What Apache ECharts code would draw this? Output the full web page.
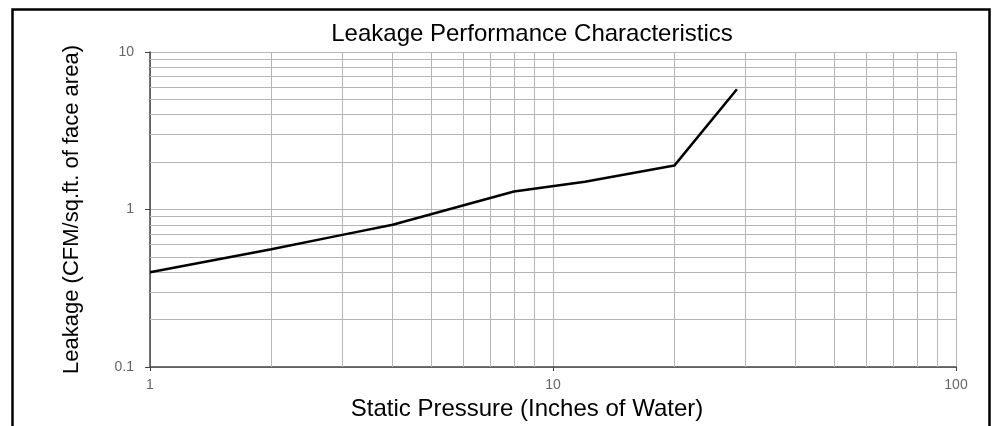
<!DOCTYPE html>
<html><head><meta charset="utf-8">
<script src="https://cdn.jsdelivr.net/npm/echarts@6/dist/echarts.min.js"></script>
<style>html,body{margin:0;padding:0;background:#fff}#c{width:992px;height:426px}</style>
</head><body><div id="c"></div>
<script>
const titleText = "Leakage Performance Characteristics";
const xName = "Static Pressure (Inches of Water)";
const yName = "Leakage (CFM/sq.ft. of face area)";
const pressure = [1, 2, 3, 4, 8, 12, 20, 28.6];
const leakage  = [0.4, 0.56, 0.69, 0.8, 1.3, 1.5, 1.9, 5.8];
const xMinorGrid = [2,3,4,5,6,7,8,9,20,30,40,50,60,70,80,90];
const yMinorGrid = [0.2,0.3,0.4,0.5,0.6,0.7,0.8,0.9,2,3,4,5,6,7,8,9];

const gridColor = '#b5b5b5';
const font = 'Liberation Sans, Arial, sans-serif';
const chart = echarts.init(document.getElementById('c'), null, {renderer:'canvas'});
const gridLines = [];
xMinorGrid.forEach(v => gridLines.push({xAxis: v}));
yMinorGrid.forEach(v => gridLines.push({yAxis: v}));

chart.setOption({
  animation: false,
  backgroundColor: '#fff',
  title: {
    text: titleText, left: 527, top: 17, textAlign: 'center',
    textStyle: {fontFamily: font, fontSize: 24, fontWeight: 'normal', color: '#000'}
  },
  grid: {left: 150, right: 36, top: 52, bottom: 59, containLabel: false},
  xAxis: {
    type: 'log', logBase: 10, min: 1, max: 100,
    name: xName, nameLocation: 'middle', nameGap: 26,
    nameTextStyle: {fontFamily: font, fontSize: 24, color: '#000', padding: [0, 52, 0, 0]},
    axisLine: {show: true, lineStyle: {color: '#444', width: 1.5}},
    axisTick: {show: true, length: 4, lineStyle: {color: '#444'}},
    axisLabel: {color: '#666', fontSize: 14, fontFamily: font, margin: 11},
    splitLine: {show: true, lineStyle: {color: gridColor, width: 1}},
    minorTick: {show: false}, minorSplitLine: {show: false}
  },
  yAxis: {
    type: 'log', logBase: 10, min: 0.1, max: 10,
    name: yName, nameLocation: 'middle', nameGap: 67, nameRotate: 90,
    nameTextStyle: {fontFamily: font, fontSize: 22, color: '#000'},
    axisLine: {show: true, lineStyle: {color: '#444', width: 1.5}},
    axisTick: {show: true, length: 5, lineStyle: {color: '#444'}},
    axisLabel: {color: '#666', fontSize: 14, fontFamily: font, margin: 16},
    splitLine: {show: true, lineStyle: {color: gridColor, width: 1}}
  },
  graphic: [{
    type: 'rect', left: 10, top: 7, z: 100, silent: true,
    shape: {width: 977, height: 430},
    style: {fill: 'none', stroke: '#000', lineWidth: 2.5}
  }],
  series: [
    {
      type: 'line', z: 1, silent: true, showSymbol: false,
      data: pressure.map((p, i) => [p, leakage[i]]),
      lineStyle: {opacity: 0},
      markLine: {
        silent: true, symbol: ['none', 'none'], label: {show: false},
        lineStyle: {color: gridColor, type: 'solid', width: 1},
        emphasis: {disabled: true},
        data: gridLines
      }
    },
    {
      type: 'line', z: 5, showSymbol: false, symbol: 'none',
      data: pressure.map((p, i) => [p, leakage[i]]),
      lineStyle: {color: '#000', width: 2.5}
    }
  ]
});
</script>
</body></html>
